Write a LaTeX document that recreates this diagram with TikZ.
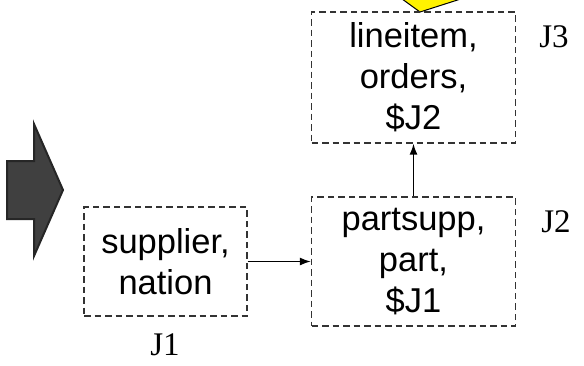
\documentclass[tikz,border=0pt]{standalone}
\usepackage{fontspec}
\setmainfont{Liberation Serif}
\setsansfont{Liberation Sans}
\usetikzlibrary{arrows.meta,positioning,calc}

\begin{document}
\begin{tikzpicture}[x=1pt,y=-1pt,
				jbox/.style={draw=black!80,dash pattern=on 6.5pt off 4pt,line width=1.3pt,inner sep=0pt,align=center,
					font=\sffamily\fontsize{34.5}{41}\selectfont},
				link/.style={-{Latex[length=11pt,width=8pt]},line width=1.5pt},
				lab/.style={inner sep=0pt,font=\fontsize{33}{33}\selectfont}
				]
				\useasboundingbox (0,0) rectangle (584,365);
				% callout tail and big arrow
				\begin{scope}
					\clip (0,0) rectangle (584,365);
					\draw[fill=yellow,line width=1pt] (398,-4) -- (420,12) -- (470,-4);
				\end{scope}
				\draw[fill=black!75,draw=black!85,line width=2pt]
				(7,161) -- (34,161) -- (34,124) -- (63,190) -- (34,256) -- (34,219) -- (7,219) -- cycle;
				
				\node[jbox,minimum width=163pt,minimum height=109pt] (j1) at (165.5,261.5) {supplier,\\nation};
				\node[jbox,minimum width=204pt,minimum height=129pt] (j2) at (413.5,261.5) {partsupp,\\part,\\\$J1};
				\node[jbox,minimum width=204pt,minimum height=131pt] (j3) at (413.5,77.5) {lineitem,\\orders,\\\$J2};
				\draw[link] (j1) -- (j2);
				\draw[link] (j2) -- (j3);
				
				\node[lab] (lj1) at (165,345) {J1};
				\node[lab] (lj2) at (556,222) {J2};
				\node[lab] (lj3) at (554,37) {J3};
			\end{tikzpicture}
\end{document}
